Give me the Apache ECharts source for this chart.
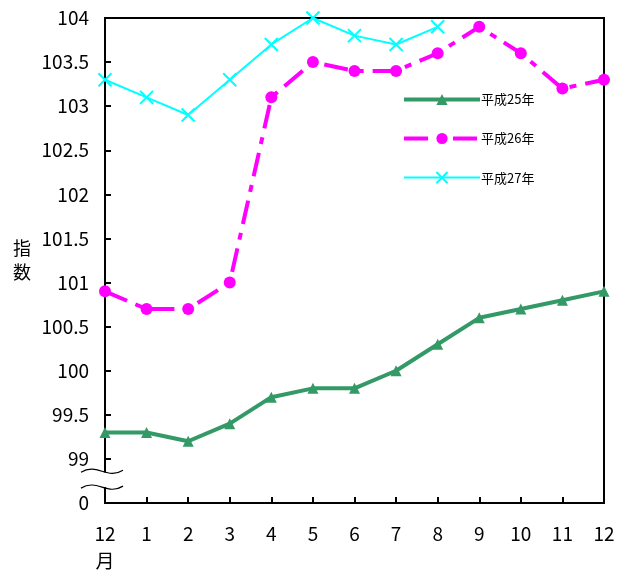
<!DOCTYPE html>
<html><head><meta charset="utf-8">
<script src="https://cdn.jsdelivr.net/npm/echarts@6/dist/echarts.min.js"></script>
<style>html,body{margin:0;padding:0;background:#fff}#c{width:624px;height:572px}</style>
</head><body><div id="c"></div>
<script>
const months = ['12','1','2','3','4','5','6','7','8','9','10','11','12'];
const h25 = [99.3, 99.3, 99.2, 99.4, 99.7, 99.8, 99.8, 100.0, 100.3, 100.6, 100.7, 100.8, 100.9];
const h26 = [100.9, 100.7, 100.7, 101.0, 103.1, 103.5, 103.4, 103.4, 103.6, 103.9, 103.6, 103.2, 103.3];
const h27 = [103.3, 103.1, 102.9, 103.3, 103.7, 104.0, 103.8, 103.7, 103.9];
const seriesNames = ['平成25年','平成26年','平成27年'];
const yMin = 98.5, yMax = 104, yStep = 0.5;

const FONT = '"Noto Sans CJK JP", sans-serif';
const green = '#339966', magenta = '#FF00FF', cyan = '#00FFFF';
const magDash = [24, 9, 7, 9];
const crossPath = 'path://M0,0L10,10M10,0L0,10';
const chart = echarts.init(document.getElementById('c'));
chart.setOption({
  animation: false,
  backgroundColor: '#fff',
  textStyle: {fontFamily: FONT, color: '#000'},
  grid: {left: 105, right: 20, top: 18, bottom: 69, containLabel: false, outerBoundsMode: 'none',
    show: true, borderColor: '#000', borderWidth: 2, backgroundColor: 'transparent'},
  legend: {
    orient: 'vertical', left: 402, top: 93, padding: 0, itemWidth: 76, itemHeight: 14, itemGap: 26,
    textStyle: {fontSize: 13, color: '#000', fontFamily: FONT, padding: [0,0,0,-4]},
    data: [
      {name: seriesNames[0], lineStyle: {color: green, width: 4}, itemStyle: {color: green}},
      {name: seriesNames[1], lineStyle: {color: magenta, width: 4, type: magDash}, itemStyle: {color: magenta}},
      {name: seriesNames[2], lineStyle: {color: cyan, width: 2}, itemStyle: {color: cyan, borderColor: cyan, borderWidth: 2}}
    ]
  },
  xAxis: {
    type: 'category', data: months, boundaryGap: false,
    axisLine: {lineStyle: {color: '#000', width: 2}},
    axisTick: {inside: true, length: 6, lineStyle: {color: '#000', width: 2}, alignWithLabel: true},
    axisLabel: {fontSize: 19, color: '#000', margin: 17, lineHeight: 27, interval: 0,
      formatter: (v, i) => i === 0 ? v + '\n月' : v},
    splitLine: {show: false}
  },
  yAxis: {
    type: 'value', min: yMin, max: yMax, interval: yStep,
    name: '指\n数', nameLocation: 'middle', nameRotate: 0, nameGap: 74,
    nameTextStyle: {fontSize: 18, color: '#000', lineHeight: 24},
    axisLine: {show: true, lineStyle: {color: '#000', width: 2}},
    axisTick: {show: true, inside: true, length: 6, lineStyle: {color: '#000', width: 2}},
    axisLabel: {fontSize: 19, color: '#000', margin: 16,
      formatter: v => Math.abs(v - yMin) < 1e-9 ? '0' : String(+v.toFixed(1))},
    splitLine: {show: false}
  },
  series: [
    {name: seriesNames[0], type: 'line', data: h25, symbol: 'triangle', symbolSize: 11,
      lineStyle: {color: green, width: 4}, itemStyle: {color: green}, z: 3},
    {name: seriesNames[1], type: 'line', data: h26, symbol: 'circle', symbolSize: 12,
      lineStyle: {color: magenta, width: 4, type: magDash}, itemStyle: {color: magenta}, z: 2},
    {name: seriesNames[2], type: 'line', data: h27, symbol: crossPath, symbolSize: 13,
      lineStyle: {color: cyan, width: 2}, itemStyle: {color: cyan, borderColor: cyan, borderWidth: 2}, z: 1}
  ]
});

// broken-axis marks
const x0 = chart.convertToPixel({xAxisIndex: 0}, 0);
const yA = chart.convertToPixel({yAxisIndex: 0}, 98.86);
const yB = chart.convertToPixel({yAxisIndex: 0}, 98.68);
function wave(y) {
  return {type: 'bezierCurve', z: 101,
    shape: {x1: x0 - 24, y1: y + 1, cpx1: x0 - 8, cpy1: y - 9, cpx2: x0 + 2, cpy2: y + 9, x2: x0 + 18, y2: y - 1},
    style: {fill: 'none', stroke: '#000', lineWidth: 1.2}};
}
chart.setOption({
  graphic: [
    {type: 'rect', z: 100, shape: {x: x0 - 4, y: yA + 1, width: 8, height: yB - yA - 1}, style: {fill: '#fff'}},
    wave(yA), wave(yB)
  ]
});
</script></body></html>
